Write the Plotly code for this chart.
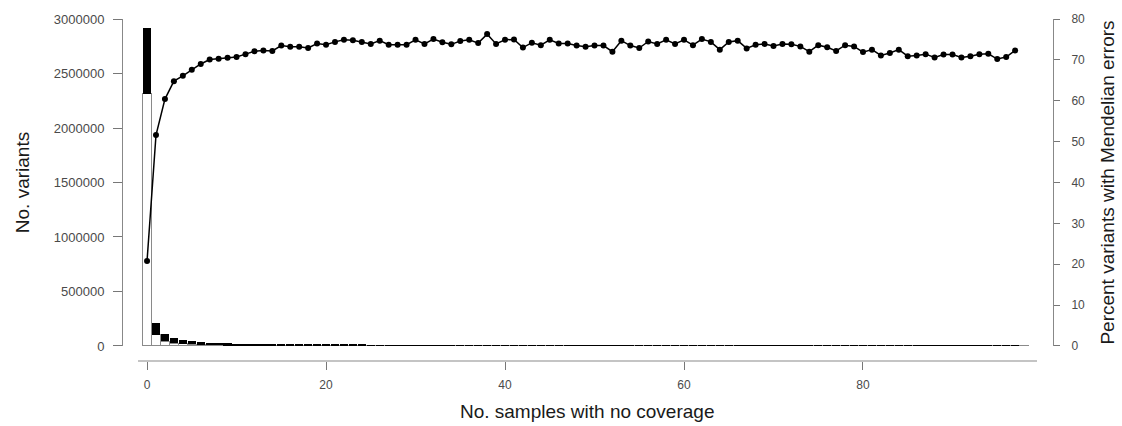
import plotly.graph_objects as go

# Number of samples lacking coverage at a site
samples_no_coverage = list(range(0, 99))

# Total variants observed for each count of uncovered samples
total_variants = [
    2920000, 214000, 110000, 72000, 55000, 45000, 37000, 31000, 28000, 24000,
    21000, 19000, 17500, 16000, 15000, 14000, 13200, 12500, 12000, 11500,
    11000, 10600, 10200, 9800, 9400, 6200, 5800, 5500, 5200, 4900,
    4700, 4500, 4300, 4100, 3900, 3800, 3600, 3500, 3400, 3300,
    3200, 3100, 3000, 2900, 2800, 2750, 2700, 2600, 2550, 2500,
    2450, 2400, 2350, 2300, 2250, 2200, 2150, 2100, 2050, 2000,
    1980, 1950, 1920, 1900, 1870, 1850, 1820, 1800, 1780, 1750,
    1730, 1700, 1680, 1660, 1640, 1620, 1600, 1580, 1560, 1540,
    1520, 1500, 1480, 1460, 1440, 1420, 1400, 1380, 1360, 1340,
    1320, 1300, 1280, 1260, 1240, 1220, 1200, 1180, 1160,
]

# Percent of those variants showing Mendelian errors
pct_mendelian = [
    20.8, 51.6, 60.4, 64.8, 66.1, 67.6, 69.0, 70.1, 70.3, 70.5,
    70.7, 71.4, 72.1, 72.3, 72.2, 73.5, 73.2, 73.2, 72.9, 74.0,
    73.7, 74.4, 74.9, 74.8, 74.4, 73.9, 74.7, 73.7, 73.7, 73.7,
    74.9, 73.9, 75.1, 74.3, 73.8, 74.6, 74.9, 74.1, 76.3, 73.9,
    74.9, 75.0, 73.0, 74.2, 73.6, 74.9, 74.0, 74.0, 73.5, 73.2,
    73.5, 73.5, 72.0, 74.7, 73.5, 72.9, 74.5, 73.9, 74.9, 73.9,
    74.9, 73.6, 75.1, 74.4, 72.5, 74.4, 74.7, 72.8, 73.7, 73.9,
    73.4, 73.9, 73.8, 73.3, 72.0, 73.6, 73.1, 72.2, 73.6, 73.3,
    71.9, 72.5, 71.1, 71.7, 72.5, 70.9, 71.1, 71.4, 70.6, 71.3,
    71.3, 70.6, 70.9, 71.4, 71.5, 70.2, 70.7, 72.3,
]

left_ticks = [0, 500000, 1000000, 1500000, 2000000, 2500000, 3000000]
right_ticks = [0, 10, 20, 30, 40, 50, 60, 70, 80]
x_ticks = [0, 20, 40, 60, 80]

# Split each bar into variants with and without Mendelian errors
with_errors = []
without_errors = []
for i, tot in enumerate(total_variants):
    p = pct_mendelian[i] if i < len(pct_mendelian) else 0.0
    err = tot * p / 100.0
    with_errors.append(err)
    without_errors.append(tot - err)

FONT = "Liberation Sans, Arial, sans-serif"
TICK_COLOR = "#4a4a4a"
TITLE_FONT = dict(family=FONT, size=19, color="#1a1a1a")

fig = go.Figure()

fig.add_trace(go.Bar(
    x=samples_no_coverage, y=without_errors,
    marker=dict(color="white", line=dict(color="#8a8a8a", width=1)),
    yaxis="y", xaxis="x", showlegend=False,
))
fig.add_trace(go.Bar(
    x=samples_no_coverage, y=with_errors,
    marker=dict(color="black", line=dict(color="black", width=0)),
    yaxis="y", xaxis="x", showlegend=False,
))
fig.add_trace(go.Scatter(
    x=samples_no_coverage[:len(pct_mendelian)], y=pct_mendelian,
    mode="lines+markers",
    line=dict(color="black", width=1.5),
    marker=dict(color="black", size=6),
    yaxis="y2", xaxis="x", showlegend=False,
))

fig.update_layout(
    width=1122, height=426,
    margin=dict(l=122, r=69, t=19, b=65, autoexpand=False),
    paper_bgcolor="white", plot_bgcolor="white",
    barmode="stack", bargap=0.07,
    font=dict(family=FONT, size=12, color=TICK_COLOR),
    xaxis=dict(
        domain=[0.0169, 0.9825],
        range=[-1.04, 99.41],
        anchor="free", position=0, automargin=False,
        tickvals=x_ticks, ticktext=[str(v) for v in x_ticks],
        ticks="outside", ticklen=8, tickcolor="#777777", tickwidth=1,
        ticklabelstandoff=5,
        showline=True, linecolor="#c4c4c4", linewidth=1.5,
        showgrid=False, zeroline=False,
        title=dict(text="No. samples with no coverage", font=TITLE_FONT,
                   standoff=13),
        tickfont=dict(size=12, color=TICK_COLOR),
    ),
    yaxis=dict(
        domain=[0.0439, 1.0],
        range=[0, 3000000],
        anchor="free", position=0, automargin=False,
        tickvals=left_ticks, ticktext=[str(v) for v in left_ticks],
        ticks="outside", ticklen=9, tickcolor="#777777", tickwidth=1,
        ticklabelstandoff=6,
        showline=True, linecolor="#888888", linewidth=1,
        showgrid=False, zeroline=False,
        title=dict(text="No. variants", font=TITLE_FONT, standoff=18),
        tickfont=dict(size=13, color=TICK_COLOR),
    ),
    yaxis2=dict(
        domain=[0.0439, 1.0],
        range=[0, 80],
        overlaying="y", side="right",
        anchor="free", position=1, automargin=False,
        tickvals=right_ticks, ticktext=[str(v) for v in right_ticks],
        ticks="outside", ticklen=6, tickcolor="#777777", tickwidth=1,
        ticklabelstandoff=9,
        showline=True, linecolor="#888888", linewidth=1,
        showgrid=False, zeroline=False,
        title=dict(text="Percent variants with Mendelian errors",
                   font=TITLE_FONT, standoff=16),
        tickfont=dict(size=12, color=TICK_COLOR),
    ),
)

fig.write_html("out.html")
